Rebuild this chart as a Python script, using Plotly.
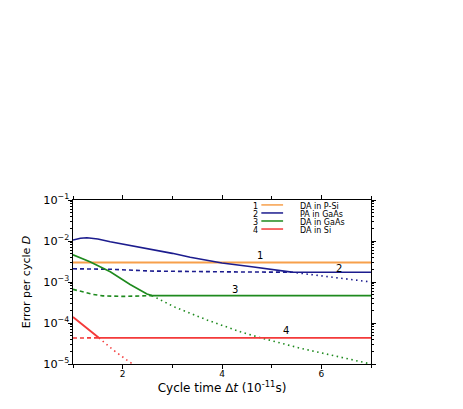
import plotly.graph_objects as go

# --- data (x in 1e-11 s, y = error per cycle) ---

# 1: DA in P-Si
psi_x = [1.0, 7.0]
psi_y = [3.0e-3, 3.0e-3]

# 2: PA in GaAs
pa_solid_x = [1.0, 1.15, 1.28, 1.5, 1.75, 2.1, 2.56, 3.0, 3.36, 4.0, 4.6, 5.0, 5.4, 6.0, 7.0]
pa_solid_y = [1.06e-2, 1.17e-2, 1.2e-2, 1.12e-2, 9.6e-3, 8.0e-3, 6.4e-3, 5.0e-3, 4.0e-3, 2.9e-3,
              2.35e-3, 2.0e-3, 1.74e-3, 1.73e-3, 1.73e-3]
pa_dash_x = [1.0, 1.75, 2.56, 3.5, 4.5, 5.4]
pa_dash_y = [2.1e-3, 2.05e-3, 1.85e-3, 1.78e-3, 1.75e-3, 1.74e-3]
pa_dot_x = [5.4, 6.2, 7.0]
pa_dot_y = [1.74e-3, 1.3e-3, 1.0e-3]

# 3: DA in GaAs
dag_solid_x = [1.0, 1.34, 1.75, 2.15, 2.49, 2.59, 7.0]
dag_solid_y = [4.6e-3, 3.1e-3, 1.78e-3, 8.7e-4, 5.1e-4, 4.65e-4, 4.65e-4]
dag_dash_x = [1.0, 1.2, 1.4, 1.6, 2.0, 2.59]
dag_dash_y = [6.6e-4, 5.7e-4, 5.0e-4, 4.6e-4, 4.45e-4, 4.65e-4]
dag_dot_x = [2.59, 3.03, 3.7, 4.37, 4.78, 5.59, 6.3, 7.0]
dag_dot_y = [4.65e-4, 2.5e-4, 1.18e-4, 6.1e-5, 4.35e-5, 2.4e-5, 1.55e-5, 1.0e-5]

# 4: DA in Si
si_solid_x = [1.0, 1.21, 1.41, 1.52, 7.0]
si_solid_y = [1.4e-4, 8.9e-5, 5.6e-5, 4.35e-5, 4.35e-5]
si_dash_x = [1.0, 1.52]
si_dash_y = [4.3e-5, 4.35e-5]
si_dot_x = [1.52, 1.81, 2.08, 2.2]
si_dot_y = [4.35e-5, 2.2e-5, 1.26e-5, 1.0e-5]

labels = ["DA in P-Si", "PA in GaAs", "DA in GaAs", "DA in Si"]
colors = ["#f7a04b", "#1c1c8e", "#1e8a1e", "#f43a3a"]

# curve number labels (x, log10 y)
num_x = [4.76, 6.35, 4.27, 5.28]
num_y = [-2.36, -2.66, -3.18, -4.19]

DASH = "4px,3px"
DOT = "1.5px,3.5px"
FONT = "DejaVu Sans, Liberation Sans, Arial, sans-serif"

fig = go.Figure()


def add(x, y, color, dash="solid", width=1.6):
    fig.add_trace(go.Scatter(x=x, y=y, mode="lines", showlegend=False,
                             line=dict(color=color, width=width, dash=dash)))


add(psi_x, psi_y, colors[0], width=2)

add(pa_dash_x, pa_dash_y, colors[1], DASH)
add(pa_dot_x, pa_dot_y, colors[1], DOT)
add(pa_solid_x, pa_solid_y, colors[1])

add(dag_dash_x, dag_dash_y, colors[2], DASH)
add(dag_dot_x, dag_dot_y, colors[2], DOT)
add(dag_solid_x, dag_solid_y, colors[2])

add(si_dash_x, si_dash_y, colors[3], DASH)
add(si_dot_x, si_dot_y, colors[3], DOT)
add(si_solid_x, si_solid_y, colors[3], width=1.8)

# curve numbers
for i in range(4):
    fig.add_annotation(x=num_x[i], y=num_y[i], text=str(i + 1), showarrow=False,
                       font=dict(size=10, color="black"))

# hand-made compact legend (plotly's legend rows are too tall)
row_y = [0.970, 0.921, 0.872, 0.823]
for i in range(4):
    fig.add_annotation(xref="paper", yref="paper", x=0.626, y=row_y[i] - 0.007, text=str(i + 1),
                       xanchor="right", yanchor="middle", showarrow=False,
                       font=dict(size=8, color="black"))
    fig.add_shape(type="line", xref="paper", yref="paper", x0=0.632, x1=0.705,
                  y0=row_y[i], y1=row_y[i], line=dict(color=colors[i], width=1.5))
    fig.add_annotation(xref="paper", yref="paper", x=0.755, y=row_y[i] - 0.007, text=labels[i],
                       xanchor="left", yanchor="middle", showarrow=False,
                       font=dict(size=8, color="black"))

axis_common = dict(showline=True, linecolor="black", linewidth=1, mirror="ticks",
                   ticks="outside", tickcolor="black", ticklen=4, showgrid=False,
                   zeroline=False, tickfont=dict(size=9, color="black"),
                   ticklabelstandoff=-3)

fig.update_xaxes(range=[1, 7], tick0=0, dtick=2,
                 minor=dict(ticks="outside", ticklen=3, tickcolor="black", dtick=1, tick0=0),
                 title=dict(text="Cycle time <i>∆t</i> (10<sup>-11</sup>s)",
                            font=dict(size=12, color="black"), standoff=4),
                 **axis_common)
fig.update_yaxes(type="log", range=[-5, -1], dtick=1, exponentformat="power",
                 minor=dict(ticks="outside", ticklen=2, tickcolor="black", dtick="D1"),
                 title=dict(text="Error per cycle <i>D</i>",
                            font=dict(size=11, color="black"), standoff=10),
                 **axis_common)

fig.update_layout(
    width=463, height=409,
    margin=dict(l=65, r=100, t=192, b=53),
    paper_bgcolor="white", plot_bgcolor="white",
    font=dict(family=FONT, color="black"),
    showlegend=False,
)

fig.write_html("out.html")
